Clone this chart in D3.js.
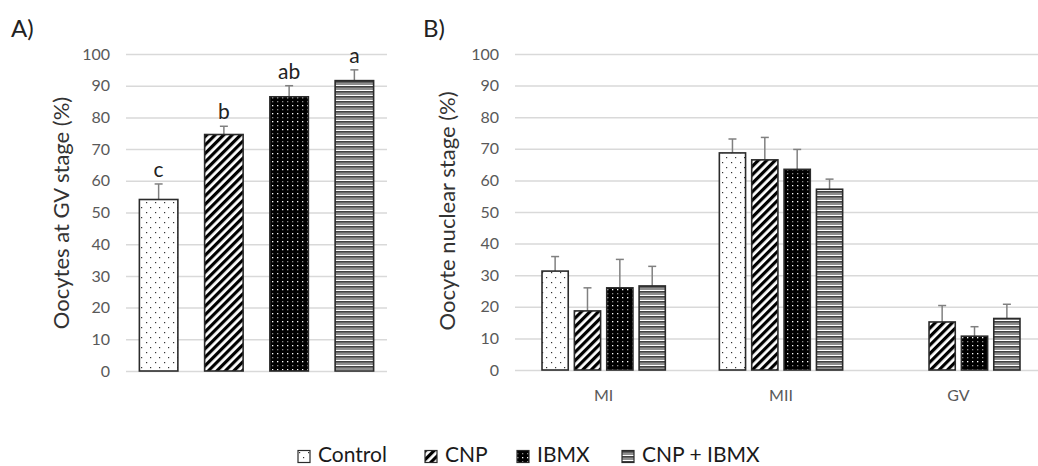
<!DOCTYPE html>
<html>
<head>
<meta charset="utf-8">
<script src="https://cdn.jsdelivr.net/npm/d3@7"></script>
<style>
  body { margin: 0; background: #fff; }
  svg { display: block; font-family: Lato, "Open Sans", sans-serif; }
</style>
</head>
<body>
<div id="chart"></div>
<script>
// Treatments (legend order)
const groups = ["Control", "CNP", "IBMX", "CNP + IBMX"];
const patternIds = ["pat-control", "pat-cnp", "pat-ibmx", "pat-combo"];

// Panel A: oocytes at GV stage (%)
const gvMeans = [54.1, 74.6, 86.5, 91.6];
const gvErrors = [4.9, 2.6, 3.5, 3.4];
const gvLetters = ["c", "b", "ab", "a"];

// Panel B: nuclear stage (%) per treatment, stages in order MI, MII, GV
const stages = ["MI", "MII", "GV"];
const controlStage = [31.3, 68.7, 0];
const cnpStage = [18.7, 66.5, 15.2];
const ibmxStage = [26.0, 63.5, 10.7];
const comboStage = [26.6, 57.2, 16.3];
const controlStageErr = [4.6, 4.4, 0];
const cnpStageErr = [7.3, 7.1, 5.2];
const ibmxStageErr = [9.0, 6.3, 3.0];
const comboStageErr = [6.2, 3.2, 4.5];

const yTicks = [0, 10, 20, 30, 40, 50, 60, 70, 80, 90, 100];

const W = 1038, H = 466;
const svg = d3.select("#chart").append("svg")
    .attr("width", W)
    .attr("height", H);

svg.append("rect").attr("width", W).attr("height", H).attr("fill", "#fff");

// ---- fill patterns ----
const defs = svg.append("defs");

let p = defs.append("pattern").attr("id", "pat-control")
    .attr("patternUnits", "userSpaceOnUse").attr("width", 9).attr("height", 10);
p.append("rect").attr("width", 9).attr("height", 10).attr("fill", "#fff");
p.append("rect").attr("x", 2).attr("y", 2).attr("width", 1.2).attr("height", 1.2).attr("fill", "#333");
p.append("rect").attr("x", 6).attr("y", 7).attr("width", 1.2).attr("height", 1.2).attr("fill", "#333");

p = defs.append("pattern").attr("id", "pat-cnp")
    .attr("patternUnits", "userSpaceOnUse").attr("width", 6).attr("height", 6)
    .attr("patternTransform", "rotate(45)");
p.append("rect").attr("width", 6).attr("height", 6).attr("fill", "#fff");
p.append("rect").attr("width", 3.2).attr("height", 6).attr("fill", "#000");

p = defs.append("pattern").attr("id", "pat-ibmx")
    .attr("patternUnits", "userSpaceOnUse").attr("width", 5).attr("height", 8);
p.append("rect").attr("width", 5).attr("height", 8).attr("fill", "#000");
p.append("rect").attr("x", 2).attr("y", 1).attr("width", 1.3).attr("height", 1.3).attr("fill", "#fff");
p.append("rect").attr("x", 2).attr("y", 5).attr("width", 1.3).attr("height", 1.3).attr("fill", "#8a8a8a");

p = defs.append("pattern").attr("id", "pat-combo")
    .attr("patternUnits", "userSpaceOnUse").attr("width", 6).attr("height", 5);
p.append("rect").attr("width", 6).attr("height", 5).attr("fill", "#8f8f8f");
p.append("rect").attr("y", 0).attr("width", 6).attr("height", 1.3).attr("fill", "#fff");
p.append("rect").attr("y", 1.3).attr("width", 6).attr("height", 1).attr("fill", "#111");

const barStroke = "#2b2b2b";
const errColor = "#808080";

function drawGrid(g, y, x0, x1) {
    const axis = g.append("g")
        .attr("transform", `translate(${x0},0)`)
        .call(d3.axisLeft(y).tickValues(yTicks).tickSize(-(x1 - x0)).tickPadding(16));
    axis.select(".domain").remove();
    axis.selectAll("line").attr("stroke", "#d9d9d9").attr("stroke-width", 1.5);
    axis.selectAll("text")
        .attr("fill", "#595959")
        .attr("font-size", 16)
        .attr("font-family", "Lato, 'Open Sans', sans-serif");
}

function errorBar(g, cx, yTop, yBase) {
    g.append("line").attr("x1", cx).attr("x2", cx).attr("y1", yBase).attr("y2", yTop)
        .attr("stroke", errColor).attr("stroke-width", 1.5);
    g.append("line").attr("x1", cx - 4).attr("x2", cx + 4).attr("y1", yTop).attr("y2", yTop)
        .attr("stroke", errColor).attr("stroke-width", 1.5);
}

// ---- Panel A ----
const gA = svg.append("g");
const xA = d3.scaleBand().domain(groups).range([126, 387]).paddingInner(0.41).paddingOuter(0.205);
const yA = d3.scaleLinear().domain([0, 100]).range([371, 54]);

drawGrid(gA, yA, 126, 387);

groups.forEach((name, i) => {
    const x = xA(name), w = xA.bandwidth();
    errorBar(gA, x + w / 2, yA(gvMeans[i] + gvErrors[i]), yA(gvMeans[i]));
    gA.append("rect")
        .attr("x", x).attr("width", w)
        .attr("y", yA(gvMeans[i])).attr("height", yA(0) - yA(gvMeans[i]))
        .attr("fill", `url(#${patternIds[i]})`)
        .attr("stroke", barStroke).attr("stroke-width", 1.6);
    gA.append("text")
        .attr("x", x + w / 2)
        .attr("y", yA(gvMeans[i] + gvErrors[i]) - 7)
        .attr("text-anchor", "middle")
        .attr("font-size", 21)
        .attr("fill", "#222")
        .text(gvLetters[i]);
});

gA.append("text")
    .attr("transform", "translate(69,213) rotate(-90)")
    .attr("text-anchor", "middle")
    .attr("font-size", 22)
    .attr("fill", "#333")
    .text("Oocytes at GV stage (%)");

svg.append("text").attr("x", 11).attr("y", 37)
    .attr("font-size", 24).attr("fill", "#222").text("A)");

// ---- Panel B ----
const gB = svg.append("g");
const xB = d3.scaleBand().domain(stages).range([515, 1047]).paddingInner(0.27).paddingOuter(0.135);
const xSub = d3.scaleBand().domain(groups).range([0, xB.bandwidth()]).paddingInner(0.19).paddingOuter(0.095);
const yB = d3.scaleLinear().domain([0, 100]).range([370, 54]);

drawGrid(gB, yB, 515, 1047);

const stageMeans = [controlStage, cnpStage, ibmxStage, comboStage];
const stageErrs = [controlStageErr, cnpStageErr, ibmxStageErr, comboStageErr];

stages.forEach((stage, s) => {
    groups.forEach((name, i) => {
        const v = stageMeans[i][s];
        if (!v) return;
        const x = xB(stage) + xSub(name), w = xSub.bandwidth();
        errorBar(gB, x + w / 2, yB(v + stageErrs[i][s]), yB(v));
        gB.append("rect")
            .attr("x", x).attr("width", w)
            .attr("y", yB(v)).attr("height", yB(0) - yB(v))
            .attr("fill", `url(#${patternIds[i]})`)
            .attr("stroke", barStroke).attr("stroke-width", 1.6);
    });
});

const xAxisB = gB.append("g")
    .attr("transform", "translate(0,370)")
    .call(d3.axisBottom(xB).tickSize(0).tickPadding(20));
xAxisB.select(".domain").remove();
xAxisB.selectAll("text")
    .attr("fill", "#595959")
    .attr("font-size", 16)
    .attr("font-family", "Lato, 'Open Sans', sans-serif");

gB.append("text")
    .attr("transform", "translate(455,211) rotate(-90)")
    .attr("text-anchor", "middle")
    .attr("font-size", 22)
    .attr("fill", "#333")
    .text("Oocyte nuclear stage (%)");

svg.append("text").attr("x", 423).attr("y", 37)
    .attr("font-size", 24).attr("fill", "#222").text("B)");

// ---- Legend ----
const legendX = [298, 425, 517, 622];
const legend = svg.append("g");
groups.forEach((name, i) => {
    legend.append("rect")
        .attr("x", legendX[i]).attr("y", 450.5)
        .attr("width", 12).attr("height", 12)
        .attr("fill", `url(#${patternIds[i]})`)
        .attr("stroke", barStroke).attr("stroke-width", 1.2);
    legend.append("text")
        .attr("x", legendX[i] + 20).attr("y", 462)
        .attr("font-size", 21)
        .attr("fill", "#1a1a1a")
        .text(name);
});
</script>
</body>
</html>
